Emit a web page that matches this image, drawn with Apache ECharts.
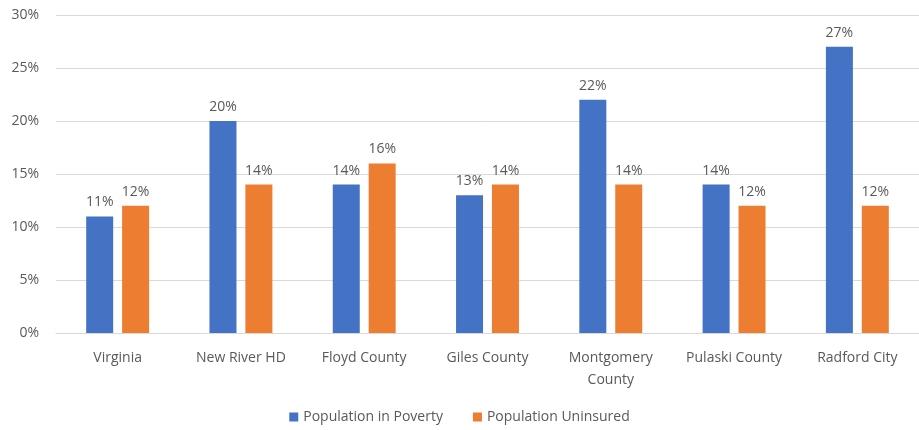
<!DOCTYPE html>
<html><head><meta charset="utf-8">
<script src="https://cdn.jsdelivr.net/npm/echarts@6/dist/echarts.min.js"></script>
<style>html,body{margin:0;padding:0;background:#fff}#c{width:919px;height:430px}</style>
</head><body><div id="c"></div>
<script>
const categories = ['Virginia', 'New River HD', 'Floyd County', 'Giles County', 'Montgomery\nCounty', 'Pulaski County', 'Radford City'];
const poverty = [11, 20, 14, 13, 22, 14, 27];
const uninsured = [12, 14, 16, 14, 14, 12, 12];
const yTicks = [0, 5, 10, 15, 20, 25, 30];

const font = '"Open Sans", "Liberation Sans", sans-serif';
const txt = '#595959';
const chart = echarts.init(document.getElementById('c'));
chart.setOption({
  animation: false,
  textStyle: { fontFamily: font },
  grid: { left: 56, width: 870, top: 15, bottom: 97 },
  legend: {
    bottom: 1, left: 'center', itemWidth: 9, itemHeight: 9, itemGap: 30,
    icon: 'rect',
    textStyle: { color: txt, fontSize: 14, fontFamily: font },
    data: ['Population in Poverty', 'Population Uninsured']
  },
  xAxis: {
    type: 'category', data: categories,
    axisLine: { lineStyle: { color: '#d9d9d9' } },
    axisTick: { show: false },
    axisLabel: { color: txt, fontSize: 14, margin: 14, lineHeight: 22, interval: 0, fontFamily: font }
  },
  yAxis: {
    type: 'value', min: yTicks[0], max: yTicks[yTicks.length - 1], interval: 5,
    axisLine: { show: false }, axisTick: { show: false },
    splitLine: { lineStyle: { color: '#d9d9d9' } },
    axisLabel: { color: txt, fontSize: 14, margin: 17, formatter: '{value}%', fontFamily: font }
  },
  series: [
    { name: 'Population in Poverty', type: 'bar', data: poverty, barWidth: 27, barGap: '33%',
      itemStyle: { color: '#4472c4' },
      label: { show: true, position: 'top', distance: 7, color: txt, fontSize: 14, formatter: '{c}%', fontFamily: font } },
    { name: 'Population Uninsured', type: 'bar', data: uninsured, barWidth: 27,
      itemStyle: { color: '#ed7d31' },
      label: { show: true, position: 'top', distance: 7, color: txt, fontSize: 14, formatter: '{c}%', fontFamily: font } }
  ]
});
</script></body></html>
